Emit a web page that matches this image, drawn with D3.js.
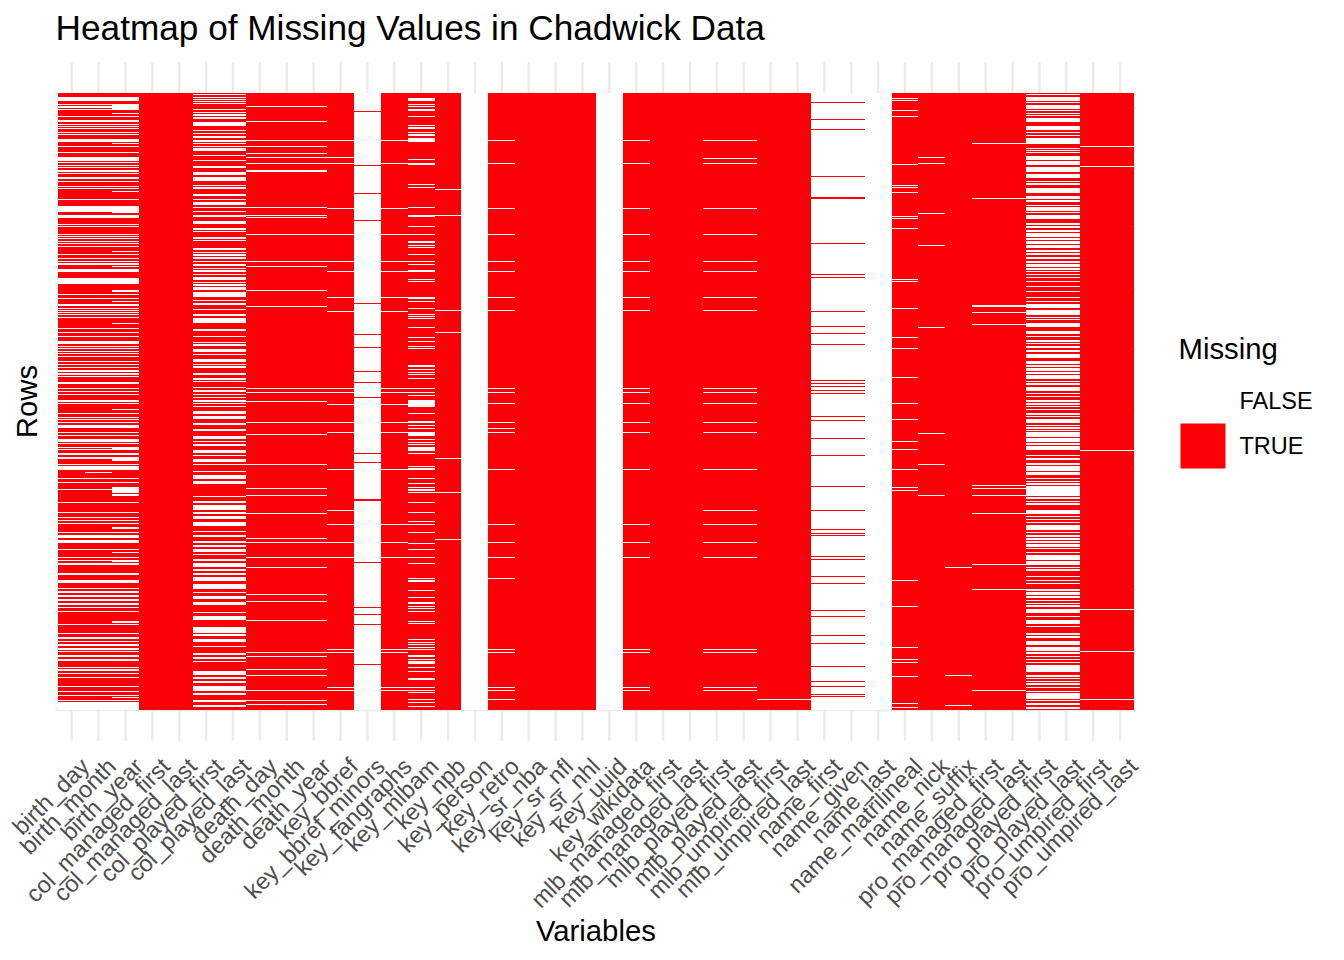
<!DOCTYPE html>
<html><head><meta charset="utf-8">
<script src="https://cdn.jsdelivr.net/npm/d3@7"></script>
<style>
body{margin:0;background:#fff;}
svg{display:block;font-family:"Liberation Sans",Arial,Helvetica,sans-serif;}
</style>
</head><body>
<svg id="chart" width="1344" height="960"></svg>
<script>
// ---------------- DATA ----------------
const chartTitle = "Heatmap of Missing Values in Chadwick Data";
const xTitle = "Variables";
const yTitle = "Rows";
const legendTitle = "Missing";
const legendLabels = ["FALSE", "TRUE"];

const variables = ["birth_day","birth_month","birth_year","col_managed_first","col_managed_last",
 "col_played_first","col_played_last","death_day","death_month","death_year","key_bbref",
 "key_bbref_minors","key_fangraphs","key_mlbam","key_npb","key_person","key_retro","key_sr_nba",
 "key_sr_nfl","key_sr_nhl","key_uuid","key_wikidata","mlb_managed_first","mlb_managed_last",
 "mlb_played_first","mlb_played_last","mlb_umpired_first","mlb_umpired_last","name_first",
 "name_given","name_last","name_matrilineal","name_nick","name_suffix","pro_managed_first",
 "pro_managed_last","pro_played_first","pro_played_last","pro_umpired_first","pro_umpired_last"];

// number of (sampled) rows, row 0 = top of the heatmap
const nRows = 1851;
// y grid breaks (row positions)
const yGridRows = [1851, 1670, 1490, 1309, 1129, 948, 767, 587, 406, 226, 45];

// dominant value of each column (true = missing)
const baseMissing = [true,true,true,true,true,true,true,true,true,true,true,
 false,true,true,true,false,true,true,true,true,false,true,true,true,true,true,true,true,
 false,false,false,true,true,true,true,true,true,true,true,true];

// runs of rows whose value differs from the column's dominant value
// (a single number = a short run of 3 rows, a pair = [start, end])
const birthDayMonthFlips = [[12,24],[34,36],[38,40],[43,45],[49,52],[68,70],[82,86],[92,94],[98,100],[104,107],[116,119],[124,127],[138,147],[159,162],[176,180],[192,204],[208,211],[216,219],[223,226],[231,238],[241,244],[252,258],[264,268],[279,282],[286,289],[319,321],[339,356],[366,374],[394,396],[400,402],[422,424],[428,431],[436,439],[443,446],[450,454],[458,462],[483,486],[496,499],[503,506],[511,516],[528,536],[556,572],[604,606],[616,619],[634,640],[644,646],[650,652],[656,659],[663,666],[671,676],[704,708],[716,719],[728,732],[744,752],[758,761],[766,769],[773,776],[780,783],[788,791],[804,808],[812,814],[823,826],[832,836],[841,846],[850,853],[868,872],[884,887],[893,896],[902,906],[920,926],
 [929,931],[961,964],[971,973],[979,982],[987,989],[997,1005],[1017,1020],[1025,1027],[1039,1046],[1051,1054],[1061,1063],[1069,1071],[1081,1086],[1093,1097],[1113,1116],[1119,1131],[1156,1159],[1167,1171],[1187,1191],[1226,1229],[1257,1261],[1271,1274],[1281,1284],[1289,1293],[1316,1319],[1326,1335],[1341,1349],[1367,1370],[1391,1395],[1401,1404],[1411,1415],[1441,1445],[1461,1470],[1486,1489],[1495,1499],[1506,1511],[1519,1524],[1531,1535],[1541,1546],[1553,1557],[1593,1597],[1619,1623],[1633,1637],[1643,1647],[1654,1658],[1665,1670],[1673,1677],[1686,1691],[1699,1704],[1721,1724],[1729,1733],[1739,1742],[1751,1756],[1779,1783],[1793,1796],[1805,1809],[1821,1823],[1826,1851]];
const birthMonthExtraFlips = [[1137,1140]];
const birthYearExtraFlips = [[34,48],[60,63],[149,154],[294,297],[356,359],[473,476],[519,522],[591,596],[625,628],[690,693],[947,951],[1064,1069],[1099,1103],[1183,1199],[1204,1209],[1303,1307],[1376,1380],[1405,1408],[1583,1591],[1811,1816]];

const colPlayedFlips = [[3,6],[11,13],[17,20],[24,26],[29,33],[49,52],[56,59],[64,68],[72,78],[87,99],[110,113],[119,124],[128,135],[142,146],[151,154],[158,162],[166,173],[186,190],[200,204],[220,224],[238,246],[253,264],[276,279],[283,288],[302,308],[319,322],[326,336],[343,346],[354,358],[366,372],[384,392],[406,410],[414,418],[431,438],[441,444],[466,470],[476,479],[483,488],[493,497],[504,508],[512,518],[524,527],[531,537],[542,546],[553,560],[566,570],[574,578],[583,591],[596,612],[621,624],[630,636],[648,651],[664,668],[674,690],[708,714],[728,732],[746,749],[754,758],[768,776],[782,786],[798,806],[812,814],[819,824],[840,846],[856,860],[864,868],[882,886],[891,896],[902,906],[911,916],[921,926],[931,934],
 [939,943],[953,963],[969,977],[989,997],[1009,1013],[1029,1037],[1043,1047],[1054,1058],[1071,1079],[1085,1089],[1099,1107],[1113,1117],[1133,1137],[1147,1157],[1163,1173],[1209,1213],[1225,1229],[1235,1251],[1257,1263],[1269,1277],[1287,1299],[1313,1317],[1326,1333],[1345,1349],[1357,1363],[1369,1377],[1383,1387],[1397,1405],[1411,1421],[1429,1433],[1439,1447],[1453,1463],[1473,1489],[1496,1501],[1509,1517],[1527,1535],[1557,1561],[1569,1581],[1603,1619],[1624,1629],[1639,1647],[1659,1663],[1679,1687],[1693,1699],[1703,1707],[1733,1747],[1753,1757],[1765,1771],[1779,1795],[1801,1805],[1821,1827],[1835,1841]];

const deathFlips = [39,84,141,160,180,192,211,[232,236],343,366,372,423,504,519,591,639,885,896,924,988,1024,1113,1186,1207,1261,1336,1348,1392,1423,1504,1525,1582,1678,1689,1729,1747,1792,1822,[1833,1837]];
const bbrefFlips = [141,193,211,345,423,505,535,613,653,886,897,932,988,1018,1129,1251,1294,1348,1392,1669,1678,1783,1792];
const bbrefMinorsFlips = [53,216,300,381,630,722,762,834,866,912,1079,1107,[1218,1223],1407,1542,1563,1593,1713];
const fangraphsFlips = [141,211,346,424,505,535,613,653,886,897,932,988,1018,1129,1294,1348,1392,1669,1678,1783,1792];
const mlbamFlips = [[14,24],[33,35],[39,42],[48,53],[68,70],[96,99],[102,107],[116,121],[124,128],[136,146],[198,201],[210,215],[273,276],[281,284],[342,345],[367,372],[399,402],[423,425],[443,449],[455,458],[462,465],[483,486],[504,506],[513,517],[531,536],[557,560],[564,567],[612,617],[624,627],[644,647],[662,666],[669,673],[676,678],[702,705],[732,735],[744,747],[758,761],[766,769],[816,823],[828,832],[837,840],[842,846],[856,859],[885,888],[896,900],[906,909],[920,929],[931,941],
 [961,963],[983,989],[996,999],[1005,1008],[1018,1028],[1037,1041],[1046,1049],[1053,1057],[1061,1073],[1081,1084],[1119,1122],[1125,1130],[1155,1158],[1169,1172],[1182,1185],[1189,1193],[1197,1200],[1226,1229],[1257,1260],[1283,1287],[1293,1296],[1317,1320],[1349,1352],[1368,1371],[1391,1394],[1410,1413],[1456,1459],[1462,1466],[1491,1494],[1512,1515],[1526,1532],[1538,1541],[1546,1549],[1554,1557],[1584,1587],[1589,1592],[1638,1641],[1647,1650],[1654,1657],[1661,1664],[1669,1672],[1685,1691],[1697,1700],[1703,1712],[1721,1724],[1733,1736],[1754,1760],[1781,1784],[1790,1793],[1797,1800],[1817,1820],[1826,1829],[1838,1841]];
const npbFlips = [288,366,652,717,1095,1196,1338];
const retroFlips = [141,211,346,424,504,534,612,652,886,897,931,988,1006,1018,1129,1294,1348,1392,1456,1669,1678,1783,1792,1819];
const wikidataFlips = [141,211,346,424,504,534,612,652,886,897,931,988,1018,1129,1294,1348,1392,1669,1678,1783,1792];
const mlbPlayedFlips = [141,194,211,346,424,504,534,612,652,886,897,931,988,1018,1129,1251,1294,1348,1392,1669,1678,1783,1792];
const mlbUmpiredFlips = [1819];
const nameFirstFlips = [28,79,109,250,[311,317],451,544,553,655,700,721,754,862,871,880,892,901,969,981,1036,1087,1180,1251,1309,1321,1327,1390,1399,1450,1471,1552,1570,1627,1651,1720,1765,1780,1804,1810];
const matrilinealFlips = [16,21,51,69,213,276,282,297,369,375,405,558,564,644,732,765,852,931,979,1045,1069,1129,1183,1192,1462,1540,1663,1699,1708,1750,1831,1843];
const nickFlips = [192,211,360,457,703,1021,1114,1207];
const suffixFlips = [1423,1747,1837];
const proManagedFlips = [151,316,[636,641],658,694,1177,1186,1207,1261,1414,1489,1792];
const proPlayedFlips = [[3,6],[11,24],[26,29],[36,49],[51,54],[59,62],[66,69],[76,87],[98,110],[117,120],[125,128],[134,152],[164,167],[171,174],[178,181],[188,201],[204,216],[222,237],[244,254],[264,267],[270,276],[286,300],[308,318],[322,326],[335,338],[341,354],[358,361],[366,377],[391,396],[400,406],[412,417],[419,431],[436,440],[444,454],[456,464],[472,476],[481,486],[491,498],[504,510],[514,521],[524,531],[534,538],[543,546],[551,556],[564,567],[579,582],[594,597],[612,615],[624,627],[634,646],[651,666],[671,674],[678,682],[689,702],[713,724],[728,732],[740,746],[751,754],[759,764],[771,776],[782,796],[804,812],[816,822],[826,834],[838,842],[846,858],[863,866],[871,876],[883,894],[900,904],[908,913],[921,927],[931,936],
 [939,943],[947,951],[961,965],[968,971],[977,989],[996,999],[1003,1007],[1011,1014],[1016,1032],[1035,1047],[1049,1055],[1059,1071],[1086,1089],[1096,1101],[1111,1115],[1119,1135],[1137,1146],[1155,1159],[1163,1167],[1171,1175],[1179,1209],[1213,1217],[1223,1227],[1231,1237],[1251,1263],[1269,1273],[1277,1281],[1287,1291],[1296,1311],[1316,1321],[1325,1331],[1335,1341],[1345,1349],[1354,1361],[1365,1369],[1376,1381],[1387,1401],[1405,1409],[1411,1416],[1421,1426],[1429,1433],[1448,1453],[1461,1465],[1469,1473],[1487,1495],[1498,1506],[1509,1515],[1521,1525],[1529,1533],[1537,1541],[1547,1561],[1569,1573],[1581,1593],[1599,1603],[1621,1625],[1629,1635],[1645,1657],[1661,1673],[1677,1683],[1689,1693],[1697,1701],[1706,1711],[1716,1736],[1745,1751],[1755,1759],[1763,1767],[1771,1777],[1781,1785],[1793,1797],[1801,1817],[1821,1825],[1831,1835],[1841,1847]];
const proUmpiredFlips = [160,219,1072,1549,1674,1819];
const none = [];

// exceptions for each variable, in the order of `variables`
const flipsPerVariable = [
 birthDayMonthFlips, birthDayMonthFlips.concat(birthMonthExtraFlips), birthDayMonthFlips.concat(birthYearExtraFlips),
 none, none, colPlayedFlips, colPlayedFlips, deathFlips, deathFlips, deathFlips, bbrefFlips,
 bbrefMinorsFlips, fangraphsFlips, mlbamFlips, npbFlips, none, retroFlips, none, none, none, none,
 wikidataFlips, none, none, mlbPlayedFlips, mlbPlayedFlips, mlbUmpiredFlips, mlbUmpiredFlips,
 nameFirstFlips, nameFirstFlips, none, matrilinealFlips, nickFlips, suffixFlips,
 proManagedFlips, proManagedFlips, proPlayedFlips, proPlayedFlips, proUmpiredFlips, proUmpiredFlips];

// ---------------- CHART ----------------
const RED = "#FC0007", WHITE = "#FFFFFF", GRID = "#EBEBEB";
const svg = d3.select("#chart");

const panelLeft = 55.6, panelRight = 1136.2;
const x = d3.scaleBand().domain(variables).range([panelLeft, panelRight]).paddingInner(0).paddingOuter(0.1);
const y = d3.scaleLinear().domain([0, nRows]).range([93, 710]);
const panelTop = y(-0.05 * nRows), panelBottom = y(1.05 * nRows);

// grid
const grid = svg.append("g");
grid.selectAll("line.v").data(variables).join("line")
  .attr("x1", d => x(d) + x.bandwidth()/2).attr("x2", d => x(d) + x.bandwidth()/2)
  .attr("y1", panelTop).attr("y2", panelBottom)
  .attr("stroke", GRID).attr("stroke-width", 2.4);
grid.selectAll("line.h").data(yGridRows).join("line")
  .attr("x1", panelLeft).attr("x2", panelRight)
  .attr("y1", d => y(d)).attr("y2", d => y(d))
  .attr("stroke", GRID).attr("stroke-width", (d, i) => i % 2 === 0 ? 2.4 : 1.4);

// tiles
const cells = [];
variables.forEach((v, i) => {
  cells.push({v, r0: 0, r1: nRows, missing: baseMissing[i]});
  flipsPerVariable[i].forEach(f => {
    const r0 = Array.isArray(f) ? f[0] : f;
    const r1 = Array.isArray(f) ? f[1] : f + 3;
    cells.push({v, r0, r1, missing: !baseMissing[i]});
  });
});
svg.append("g").attr("shape-rendering", "crispEdges")
  .selectAll("rect").data(cells).join("rect")
  .attr("x", d => x(d.v)).attr("width", x.bandwidth())
  .attr("y", d => y(d.r0)).attr("height", d => Math.max(1, y(d.r1) - y(d.r0)))
  .attr("fill", d => d.missing ? RED : WHITE);

// x axis labels
const ax = svg.append("g").attr("transform", "translate(0,768)")
  .call(d3.axisBottom(x).tickSize(0).tickPadding(0));
ax.select(".domain").remove();
ax.selectAll("text")
  .attr("x", 0).attr("y", 0).attr("dy", null)
  .attr("transform", "translate(19,0) rotate(-45)")
  .attr("text-anchor", "end")
  .attr("fill", "#4D4D4D")
  .style("font-size", "23.5px")
  .style("font-family", "'Liberation Sans', Arial, Helvetica, sans-serif");

// titles
svg.append("text").attr("x", panelLeft).attr("y", 40)
  .style("font-size", "35.2px").attr("fill", "#000").text(chartTitle);
svg.append("text").attr("x", (panelLeft + panelRight)/2).attr("y", 941)
  .attr("text-anchor", "middle").style("font-size", "29.3px").attr("fill", "#000").text(xTitle);
svg.append("text").attr("transform", `translate(36.5,${(panelTop + panelBottom)/2}) rotate(-90)`)
  .attr("text-anchor", "middle").style("font-size", "29.3px").attr("fill", "#000").text(yTitle);

// legend
const lg = svg.append("g");
lg.append("text").attr("x", 1178.5).attr("y", 359).style("font-size", "29.3px").attr("fill", "#000").text(legendTitle);
const keyColor = d3.scaleOrdinal().domain(legendLabels).range([WHITE, RED]);
const keys = lg.selectAll("g.key").data(legendLabels).join("g")
  .attr("transform", (d, i) => `translate(1180.5,${378.5 + i * 45})`);
keys.append("rect").attr("width", 45).attr("height", 45).attr("fill", d => keyColor(d));
keys.append("text").attr("x", 59).attr("y", 30).style("font-size", "23.5px").attr("fill", "#000").text(d => d);
</script>
</body></html>
